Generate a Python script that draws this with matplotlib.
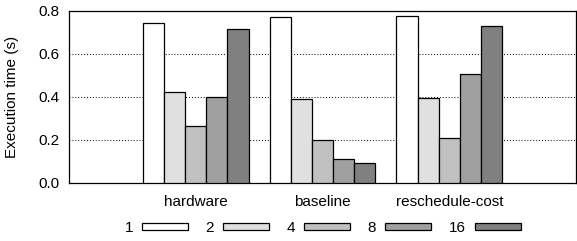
import numpy as np
import matplotlib
matplotlib.use("Agg")
import matplotlib.pyplot as plt

plt.rcParams["font.family"] = ["Liberation Sans", "DejaVu Sans"]

# Data
categories = ["hardware", "baseline", "reschedule-cost"]
series_labels = ["1", "2", "4", "8", "16"]
values = {
    "1": [0.743, 0.771, 0.775],
    "2": [0.422, 0.389, 0.397],
    "4": [0.264, 0.199, 0.208],
    "8": [0.399, 0.113, 0.506],
    "16": [0.718, 0.092, 0.729],
}
colors = ["#ffffff", "#e0e0e0", "#c0c0c0", "#a0a0a0", "#808080"]

fig = plt.figure(figsize=(5.77, 2.41), dpi=100)
ax = fig.add_axes([0.1196, 0.2407, 0.8787, 0.7137])

x = np.arange(len(categories))
width = 1 / 6
for i, (lab, col) in enumerate(zip(series_labels, colors)):
    ax.bar(x + (i - 2) * width, values[lab], width=width, color=col,
           edgecolor="black", linewidth=0.9, label=lab, zorder=3)

ax.set_xlim(-1, 3)
ax.set_ylim(0, 0.8)
ax.set_yticks([0.0, 0.2, 0.4, 0.6, 0.8])
ax.set_yticklabels(["0.0", "0.2", "0.4", "0.6", "0.8"])
ax.set_xticks(x)
ax.set_xticklabels(categories)
ax.tick_params(axis="both", length=0, labelsize=11)
ax.tick_params(axis="y", pad=7)
ax.tick_params(axis="x", pad=9)
ax.yaxis.grid(True, linestyle=(0, (1, 2)), color="black", linewidth=0.7, zorder=0)
ax.set_axisbelow(True)
for s in ax.spines.values():
    s.set_linewidth(0.9)
    s.set_color("black")
ax.set_ylabel("Execution time (s)", fontsize=11, labelpad=14)

ax.legend(loc="center", bbox_to_anchor=(0.5, -0.262), ncol=5, frameon=False,
          fontsize=11, markerfirst=False, handlelength=3.0, handleheight=0.36,
          handletextpad=0.6, columnspacing=1.15, borderpad=0)

fig.savefig("out.png", dpi=100)
